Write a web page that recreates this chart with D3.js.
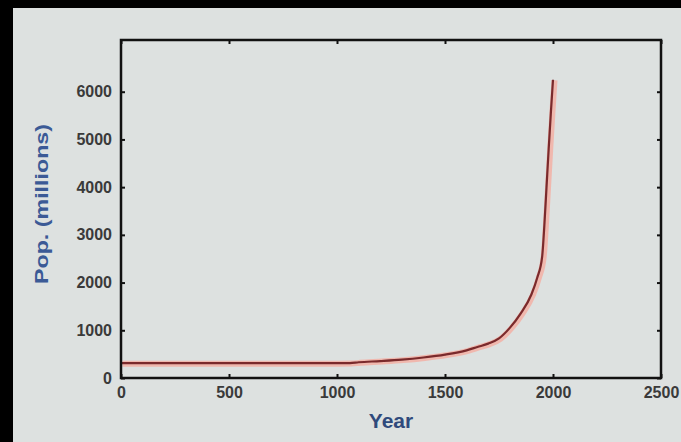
<!DOCTYPE html>
<html><head><meta charset="utf-8">
<script src="https://cdn.jsdelivr.net/npm/d3@7"></script>
<style>body{margin:0;background:#000;} svg{display:block;}</style>
</head><body>
<svg id="c" width="681" height="442"></svg>
<script>
const years = [0, 1000, 1060, 1100, 1200, 1300, 1400, 1500, 1600, 1650, 1700, 1750, 1800, 1850, 1900, 1927, 1950, 1960, 1970, 1980, 1990, 2000];
const population = [310, 310, 312, 330, 355, 385, 430, 490, 580, 650, 720, 830, 1050, 1350, 1750, 2100, 2550, 3200, 4000, 4800, 5550, 6250];
const xTicks = [0, 500, 1000, 1500, 2000, 2500];
const yTicks = [0, 1000, 2000, 3000, 4000, 5000, 6000];
const xLabel = "Year";
const yLabel = "Pop. (millions)";

const svg = d3.select("#c");
svg.append("rect").attr("width", 681).attr("height", 442).attr("fill", "#000");
svg.append("rect").attr("x", 13).attr("y", 8).attr("width", 668).attr("height", 434).attr("fill", "#dde1e0");

const L = 121, R = 661, T = 40, B = 378;
const x = d3.scaleLinear().domain([0, 2500]).range([L, R]);
const y = d3.scaleLinear().domain([0, 7000]).range([B, 44]);

const font = "'Liberation Sans', Arial, sans-serif";

// line
const data = years.map((yr, i) => [yr, population[i]]);
const line = d3.line().x(d => x(d[0])).y(d => y(d[1])).curve(d3.curveMonotoneX);
svg.append("path").datum(data).attr("d", line).attr("fill", "none")
  .attr("stroke", "#f6a99e").attr("stroke-width", 6).attr("stroke-opacity", 0.75)
  .attr("stroke-linejoin", "round").attr("transform", "translate(1.5,0.5)");
svg.append("path").datum(data).attr("d", line).attr("fill", "none")
  .attr("stroke", "#7a2a2c").attr("stroke-width", 2.2).attr("stroke-linejoin", "round");

// axes
function style(g) {
  g.select(".domain").remove();
  g.selectAll(".tick line").attr("stroke", "#111").attr("stroke-width", 2);
  g.selectAll(".tick text").attr("fill", "#3a3a3a").attr("font-family", font)
    .attr("font-weight", "bold").attr("font-size", 16);
}
svg.append("g").attr("transform", `translate(0,${B})`)
  .call(d3.axisBottom(x).tickValues(xTicks).tickSizeInner(-4).tickSizeOuter(0).tickPadding(9).tickFormat(d3.format("d")))
  .call(style);
svg.append("g").attr("transform", `translate(${L},0)`)
  .call(d3.axisLeft(y).tickValues(yTicks).tickSizeInner(-4).tickSizeOuter(0).tickPadding(9).tickFormat(d3.format("d")))
  .call(style);
svg.append("g").attr("transform", `translate(0,${T})`)
  .call(d3.axisTop(x).tickValues(xTicks).tickSizeInner(-4).tickSizeOuter(0).tickFormat(""))
  .call(style);
svg.append("g").attr("transform", `translate(${R},0)`)
  .call(d3.axisRight(y).tickValues(yTicks).tickSizeInner(-4).tickSizeOuter(0).tickFormat(""))
  .call(style);

// box
svg.append("rect").attr("x", L).attr("y", T).attr("width", R - L).attr("height", B - T)
  .attr("fill", "none").attr("stroke", "#111").attr("stroke-width", 2.5);

// labels
svg.append("text").attr("x", (L + R) / 2).attr("y", 428).attr("text-anchor", "middle")
  .attr("font-family", font).attr("font-weight", "bold").attr("font-size", 21)
  .attr("fill", "#2f4a7c").text(xLabel);
svg.append("text").attr("transform", `translate(48,${(123 + 285) / 2}) rotate(-90)`)
  .attr("text-anchor", "middle").attr("font-family", font).attr("font-weight", "bold")
  .attr("font-size", 19).attr("fill", "#3b5a96")
  .attr("textLength", 160).attr("lengthAdjust", "spacingAndGlyphs").text(yLabel);
</script>
</body></html>
